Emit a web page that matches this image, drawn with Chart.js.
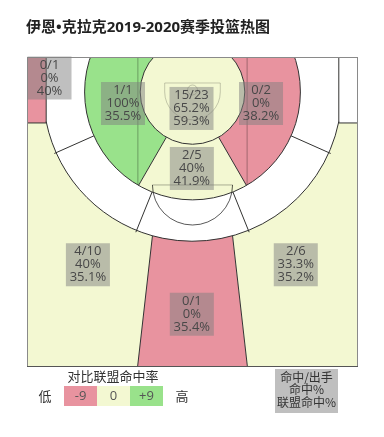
<!DOCTYPE html>
<html>
<head>
<meta charset="utf-8">
<script src="https://cdn.jsdelivr.net/npm/chart.js@4.4.1/dist/chart.umd.min.js"></script>
<style>
  html, body { margin: 0; padding: 0; background: #fff; }
  canvas { display: block; }
</style>
</head>
<body>
<canvas id="shotChart" width="384" height="437"></canvas>
<script>
// 区域数据（按绘制顺序）
const zones = ["左底角三分", "左侧三分", "正面三分", "右侧三分", "右底角三分",
  "左底线长两分", "左侧长两分", "正面长两分", "右侧长两分", "右底线长两分",
  "左侧中距离", "罚球线中距离", "右侧中距离", "篮下"];
const made = [0, 4, 0, 2, 0, 0, 0, 0, 0, 0, 1, 2, 0, 15];
const attempts = [1, 10, 1, 6, 0, 0, 0, 0, 0, 0, 1, 5, 2, 23];
const fgPct = [0, 40, 0, 33.3, null, null, null, null, null, null, 100, 40, 0, 65.2];
const leaguePct = [40, 35.1, 35.4, 35.2, null, null, null, null, null, null, 35.5, 41.9, 38.2, 59.3];

// 图例
const legendTicks = ["-9", "0", "+9"];
const legendEnds = ["低", "高"];
const legendKey = ["命中/出手", "命中%", "联盟命中%"];

// 球场几何（英尺，底线在上）
const court = { width: 50, length: 47 };
const hoop = { x: 25, y: 5.3 };
const rInner = 7.9, rMid = 16.3, rThree = 22.55;
const cornerX = 2.9, cornerY = 10;
const keyTop = 6.05, keyBottom = 8.3;
const laneHalf = 8.25, ftY = 19.4, ftHalf = 6.05;
const labelPos = [
  { x: 3.4, y: 3.18 }, { x: 9.2, y: 31.5 }, { x: 24.9, y: 39.0 }, { x: 40.6, y: 31.5 }, null,
  null, null, null, null, null,
  { x: 14.5, y: 7.05 }, { x: 24.9, y: 16.9 }, { x: 35.35, y: 7.05 }, { x: 24.85, y: 7.8 }
];

const palette = { low: "#e8939f", mid: "#f3f8d2", high: "#99e28b", none: "#ffffff" };
const deg = Math.PI / 180;

function zoneColor(i) {
  if (!attempts[i]) return palette.none;
  const diff = fgPct[i] - leaguePct[i];
  if (diff >= 9) return palette.high;
  if (diff <= -9) return palette.low;
  return palette.mid;
}

const courtPlugin = {
  id: "court",
  beforeDatasetsDraw(chart) {
    const { ctx, chartArea: a, scales: { x, y } } = chart;
    const X = v => x.getPixelForValue(v), Y = v => y.getPixelForValue(v);
    const k = (X(court.width) - X(0)) / court.width;
    const hx = X(hoop.x), hy = Y(hoop.y);

    const poly = (pts, color) => {
      ctx.beginPath();
      pts.forEach((p, j) => j ? ctx.lineTo(p[0], p[1]) : ctx.moveTo(p[0], p[1]));
      ctx.closePath();
      ctx.fillStyle = color;
      ctx.fill();
    };
    const wedge = (a1, a2, color) => {
      ctx.beginPath();
      ctx.moveTo(hx, hy);
      ctx.arc(hx, hy, 100 * k, a1 * deg, a2 * deg);
      ctx.closePath();
      ctx.fillStyle = color;
      ctx.fill();
    };
    const line = (x1, y1, x2, y2) => {
      ctx.beginPath(); ctx.moveTo(x1, y1); ctx.lineTo(x2, y2); ctx.stroke();
    };
    const radial = (ang, r1, r2) => {
      const c = Math.cos(ang * deg), s = Math.sin(ang * deg);
      line(hx + r1 * k * c, hy + r1 * k * s, hx + r2 * k * c, hy + r2 * k * s);
    };

    // 顶弧分区线
    const r3 = rThree * k;
    const topY = hy + Math.sqrt(r3 * r3 - (keyTop * k) ** 2);
    const tl = [hx - keyTop * k, topY], tr = [hx + keyTop * k, topY];
    const bl = [X(hoop.x - keyBottom), a.bottom], br = [X(hoop.x + keyBottom), a.bottom];
    const slope = (bl[0] - tl[0]) / (bl[1] - tl[1]);
    const el = tl[0] + (a.top - tl[1]) * slope;
    const er = 2 * hx - el;

    ctx.save();
    ctx.beginPath(); ctx.rect(a.left, a.top, a.width, a.height); ctx.clip();

    // 三分区
    poly([[a.left, a.top], [el, a.top], bl, [a.left, a.bottom]], zoneColor(1));
    poly([[el, a.top], [er, a.top], br, bl], zoneColor(2));
    poly([[er, a.top], [a.right, a.top], [a.right, a.bottom], br], zoneColor(3));
    ctx.fillStyle = zoneColor(0);
    ctx.fillRect(a.left, a.top, X(cornerX) - a.left, Y(cornerY) - a.top);
    ctx.fillStyle = zoneColor(4);
    ctx.fillRect(X(court.width - cornerX), a.top, a.right - X(court.width - cornerX), Y(cornerY) - a.top);

    // 三分线内
    const cxL = X(cornerX), cxR = X(court.width - cornerX);
    const meetY = hy + Math.sqrt(r3 * r3 - (hx - cxL) ** 2);
    ctx.save();
    ctx.beginPath(); ctx.rect(cxL, a.top, cxR - cxL, a.height); ctx.clip();
    ctx.beginPath();
    ctx.rect(a.left, a.top, a.width, meetY - a.top);
    ctx.moveTo(hx + r3, hy);
    ctx.arc(hx, hy, r3, 0, 2 * Math.PI);
    ctx.clip();
    wedge(156, 270, zoneColor(5));
    wedge(112, 156, zoneColor(6));
    wedge(68, 112, zoneColor(7));
    wedge(24, 68, zoneColor(8));
    wedge(-90, 24, zoneColor(9));
    ctx.restore();

    // 中距离
    ctx.save();
    ctx.beginPath(); ctx.arc(hx, hy, rMid * k, 0, 2 * Math.PI); ctx.clip();
    wedge(120, 270, zoneColor(10));
    wedge(60, 120, zoneColor(11));
    wedge(-90, 60, zoneColor(12));
    ctx.restore();

    ctx.beginPath(); ctx.arc(hx, hy, rInner * k, 0, 2 * Math.PI);
    ctx.fillStyle = zoneColor(13); ctx.fill();

    // 球场标线
    ctx.lineWidth = 1;
    ctx.strokeStyle = "rgba(0,0,0,0.3)";
    line(X(hoop.x - laneHalf), a.top, X(hoop.x - laneHalf), Y(ftY));
    line(X(hoop.x + laneHalf), a.top, X(hoop.x + laneHalf), Y(ftY));
    line(X(hoop.x - ftHalf), Y(ftY), X(hoop.x + ftHalf), Y(ftY));
    ctx.strokeStyle = "rgba(0,0,0,0.2)";
    const ra = 4.2 * k, bb = Y(3.94);
    ctx.beginPath();
    ctx.moveTo(hx - ra, bb); ctx.lineTo(hx - ra, hy);
    ctx.arc(hx, hy, ra, Math.PI, 0, true);
    ctx.lineTo(hx + ra, bb);
    ctx.stroke();
    line(hx - ra, bb, hx + ra, bb);
    ctx.beginPath(); ctx.arc(hx, hy - 0.3 * k, 0.75 * k, 0, 2 * Math.PI); ctx.stroke();
    ctx.strokeStyle = "rgba(0,0,0,0.65)";
    ctx.beginPath(); ctx.arc(hx, Y(ftY), ftHalf * k, 0, Math.PI); ctx.stroke();

    // 分区边界
    ctx.strokeStyle = "#333";
    ctx.beginPath(); ctx.arc(hx, hy, rInner * k, 0, 2 * Math.PI); ctx.stroke();
    ctx.beginPath(); ctx.arc(hx, hy, rMid * k, 0, 2 * Math.PI); ctx.stroke();
    const angR = Math.atan2(meetY - hy, cxR - hx), angL = Math.atan2(meetY - hy, cxL - hx);
    ctx.beginPath(); ctx.arc(hx, hy, r3, angR, angL); ctx.stroke();
    line(cxL, a.top, cxL, Y(cornerY)); line(a.left, Y(cornerY), cxL, Y(cornerY));
    line(cxR, a.top, cxR, Y(cornerY)); line(cxR, Y(cornerY), a.right, Y(cornerY));
    [156, 112, 68, 24].forEach(ang => radial(ang, rMid, rThree + 0.3));
    [120, 60].forEach(ang => radial(ang, rInner, rMid));
    line(tl[0], tl[1], bl[0], bl[1]);
    line(tr[0], tr[1], br[0], br[1]);
    ctx.restore();

    // 边框
    ctx.strokeStyle = "#8a8a8a";
    ctx.strokeRect(a.left + 0.5, a.top + 0.5, a.width - 1, a.height - 1);
    ctx.strokeStyle = "#555";
    line(a.left, a.bottom - 0.5, a.right, a.bottom - 0.5);
  },
  afterDatasetsDraw(chart) {
    const { ctx } = chart;
    const meta = chart.getDatasetMeta(0);
    const data = chart.data.datasets[0].data;
    ctx.save();
    ctx.font = '13px "Open Sans"';
    ctx.textAlign = "center";
    ctx.textBaseline = "middle";
    meta.data.forEach((pt, j) => {
      const i = data[j].zone;
      ctx.fillStyle = "rgba(128,128,128,0.5)";
      ctx.fillRect(pt.x - 22, pt.y - 21.5, 44, 43);
      ctx.fillStyle = "#484848";
      ctx.fillText(made[i] + "/" + attempts[i], pt.x, pt.y - 13);
      ctx.fillText(fgPct[i] + "%", pt.x, pt.y);
      ctx.fillText(leaguePct[i] + "%", pt.x, pt.y + 13);
    });
    ctx.restore();
  },
  afterDraw(chart) {
    const { ctx } = chart;
    ctx.save();
    ctx.textBaseline = "middle";
    ctx.fillStyle = "#222";
    ctx.font = 'bold 15px "Noto Sans", "Noto Sans CJK SC"';
    ctx.textAlign = "left";
    ctx.fillText("伊恩•克拉克2019-2020赛季投篮热图", 26, 28);

    ctx.textAlign = "center";
    ctx.fillStyle = "#333";
    ctx.font = '13px "Noto Sans CJK SC"';
    ctx.fillText("对比联盟命中率", 113, 376);
    ctx.fillText(legendEnds[0], 45, 396);
    ctx.fillText(legendEnds[1], 182, 396);
    const cols = [palette.low, palette.mid, palette.high];
    legendTicks.forEach((t, j) => {
      ctx.fillStyle = cols[j];
      ctx.fillRect(64 + j * 33, 386, 33, 20);
      ctx.fillStyle = "#555";
      ctx.font = '13px "Open Sans"';
      ctx.fillText(t, 80.5 + j * 33, 396);
    });
    ctx.fillStyle = "#bfbfbf";
    ctx.fillRect(275, 369, 63, 44);
    ctx.fillStyle = "#333";
    ctx.font = '12px "Noto Sans CJK SC"';
    legendKey.forEach((t, j) => ctx.fillText(t, 306.5, 377 + j * 12.5));
    ctx.restore();
  }
};

const points = zones.map((z, i) => attempts[i] ? { x: labelPos[i].x, y: labelPos[i].y, zone: i } : null)
  .filter(Boolean);

new Chart(document.getElementById("shotChart"), {
  type: "scatter",
  data: {
    datasets: [{ label: "投篮", data: points, pointRadius: 0, pointHoverRadius: 0 }]
  },
  options: {
    responsive: false,
    animation: false,
    devicePixelRatio: 1,
    layout: { padding: { left: 27, right: 26, top: 57, bottom: 70 } },
    scales: {
      x: { type: "linear", min: 0, max: court.width, display: false },
      y: { type: "linear", min: 0, max: court.length, reverse: true, display: false }
    },
    plugins: { legend: { display: false }, tooltip: { enabled: false } }
  },
  plugins: [courtPlugin]
});
</script>
</body>
</html>
